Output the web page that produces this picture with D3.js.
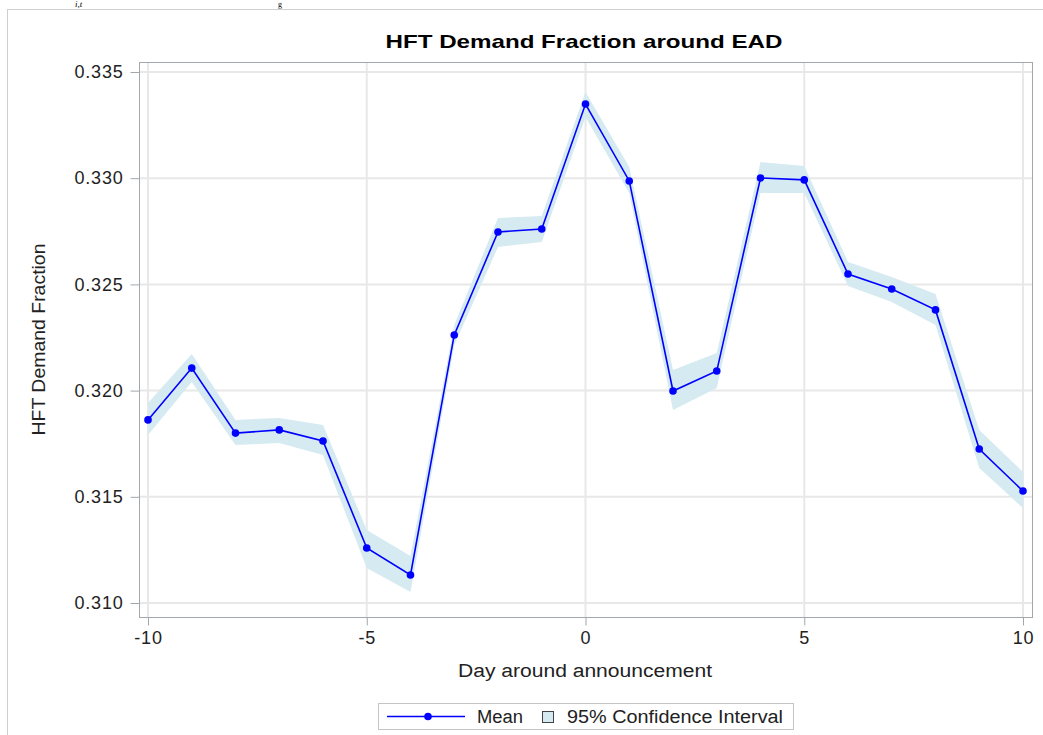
<!DOCTYPE html>
<html>
<head>
<meta charset="utf-8">
<script src="https://cdn.jsdelivr.net/npm/d3@7"></script>
<style>
  body { margin: 0; background: #fff; }
  svg { display: block; font-family: "Liberation Sans", Arial, sans-serif; }
</style>
</head>
<body>
<svg id="chart" width="1043" height="735"></svg>
<script>
// chart data
var days = [-10, -9, -8, -7, -6, -5, -4, -3, -2, -1, 0, 1, 2, 3, 4, 5, 6, 7, 8, 9, 10];
var meanValues = [0.31862, 0.32106, 0.31800, 0.31815, 0.31763, 0.31259, 0.31132, 0.32262, 0.32747, 0.32761,
                  0.33349, 0.32987, 0.31998, 0.32092, 0.33001, 0.32992, 0.32549, 0.32478, 0.32380, 0.31725, 0.31527];
var upperValues = [0.31942, 0.32172, 0.31862, 0.31871, 0.31838, 0.31344, 0.31221, 0.32309, 0.32813, 0.32822,
                   0.33406, 0.33053, 0.32097, 0.32177, 0.33076, 0.33057, 0.32606, 0.32535, 0.32455, 0.31815, 0.31617];
var lowerValues = [0.31791, 0.32040, 0.31744, 0.31753, 0.31697, 0.31165, 0.31052, 0.32215, 0.32676, 0.32700,
                   0.33288, 0.32930, 0.31909, 0.32012, 0.32930, 0.32930, 0.32493, 0.32417, 0.32309, 0.31636, 0.31447];
var xTicks = [-10, -5, 0, 5, 10];
var yTicks = [0.310, 0.315, 0.320, 0.325, 0.330, 0.335];

var titleText = "HFT Demand Fraction around EAD";
var xLabel = "Day around announcement";
var yLabel = "HFT Demand Fraction";
var legendMean = "Mean";
var legendBand = "95% Confidence Interval";

var bandColor = "#d5eaf1",
    lineColor = "#0000ff",
    gridColor = "#e8e8e8",
    frameColor = "#a3a8ad";

var svg = d3.select("#chart");

// plot frame
var frame = { left: 139, top: 62, right: 1032, bottom: 617 };

var x = d3.scaleLinear().domain([-10, 10]).range([148, 1023]);
var y = d3.scaleLinear().domain([0.310, 0.335]).range([603, 72]);

var rows = days.map(function(d, i) {
    return { day: d, mean: meanValues[i], lo: lowerValues[i], hi: upperValues[i] };
});

// outer page frame (screenshot crop of a document)
svg.append("rect")
    .attr("x", 7.5).attr("y", 9.5)
    .attr("width", 1100).attr("height", 800)
    .attr("fill", "none")
    .attr("stroke", "#cfcfcf");

// bits of the caption above the figure
svg.append("text")
    .attr("x", 75).attr("y", 7)
    .attr("font-family", "Liberation Serif, serif")
    .attr("font-style", "italic")
    .attr("font-size", 9)
    .text("i,t");
svg.append("text")
    .attr("x", 278).attr("y", 7)
    .attr("font-family", "Liberation Serif, serif")
    .attr("font-size", 8)
    .text("g");

// grid
svg.append("g")
    .selectAll("line")
    .data(yTicks)
    .enter().append("line")
    .attr("x1", frame.left).attr("x2", frame.right)
    .attr("y1", function(d) { return y(d); })
    .attr("y2", function(d) { return y(d); })
    .attr("stroke", gridColor)
    .attr("stroke-width", 2);

svg.append("g")
    .selectAll("line")
    .data(xTicks)
    .enter().append("line")
    .attr("y1", frame.top).attr("y2", frame.bottom)
    .attr("x1", function(d) { return x(d); })
    .attr("x2", function(d) { return x(d); })
    .attr("stroke", gridColor)
    .attr("stroke-width", 2);

// confidence band
var band = d3.area()
    .x(function(d) { return x(d.day); })
    .y0(function(d) { return y(d.lo); })
    .y1(function(d) { return y(d.hi); });

svg.append("path")
    .datum(rows)
    .attr("d", band)
    .attr("fill", bandColor);

// mean line + markers
var line = d3.line()
    .x(function(d) { return x(d.day); })
    .y(function(d) { return y(d.mean); });

svg.append("path")
    .datum(rows)
    .attr("d", line)
    .attr("fill", "none")
    .attr("stroke", lineColor)
    .attr("stroke-width", 1.6);

svg.append("g")
    .selectAll("circle")
    .data(rows)
    .enter().append("circle")
    .attr("cx", function(d) { return x(d.day); })
    .attr("cy", function(d) { return y(d.mean); })
    .attr("r", 3.8)
    .attr("fill", lineColor);

// frame box
svg.append("rect")
    .attr("x", frame.left + 0.5).attr("y", frame.top + 0.5)
    .attr("width", frame.right - frame.left).attr("height", frame.bottom - frame.top)
    .attr("fill", "none")
    .attr("stroke", frameColor);

// axes
var yAxis = d3.axisLeft(y)
    .tickValues(yTicks)
    .tickFormat(d3.format(".3f"))
    .tickSizeInner(9)
    .tickSizeOuter(0)
    .tickPadding(7);

var gy = svg.append("g")
    .attr("transform", "translate(" + (frame.left + 0.5) + ",0)")
    .call(yAxis);

var xAxis = d3.axisBottom(x)
    .tickValues(xTicks)
    .tickFormat(function(d) { return String(d); })   // plain hyphen like SAS
    .tickSizeInner(8)
    .tickSizeOuter(0)
    .tickPadding(6);

var gx = svg.append("g")
    .attr("transform", "translate(0," + (frame.bottom + 0.5) + ")")
    .call(xAxis);

[gx, gy].forEach(function(g) {
    g.select(".domain").remove();
    g.selectAll(".tick line").attr("stroke", frameColor);
    g.selectAll(".tick text")
        .attr("fill", "#222")
        .attr("font-size", 18)
        .attr("font-family", "Liberation Sans, Arial, sans-serif")
        .attr("letter-spacing", "0.8px");
});

// titles
svg.append("text")
    .attr("x", 584).attr("y", 48)
    .attr("text-anchor", "middle")
    .attr("font-size", 19)
    .attr("font-weight", "bold")
    .attr("textLength", 397)
    .attr("lengthAdjust", "spacingAndGlyphs")
    .attr("fill", "#000")
    .text(titleText);

svg.append("text")
    .attr("x", 585).attr("y", 677)
    .attr("text-anchor", "middle")
    .attr("font-size", 18)
    .attr("textLength", 254)
    .attr("lengthAdjust", "spacingAndGlyphs")
    .attr("fill", "#222")
    .text(xLabel);

svg.append("text")
    .attr("transform", "translate(45," + ((frame.top + frame.bottom) / 2) + ") rotate(-90)")
    .attr("text-anchor", "middle")
    .attr("font-size", 18)
    .attr("textLength", 192)
    .attr("lengthAdjust", "spacingAndGlyphs")
    .attr("fill", "#222")
    .text(yLabel);

// legend
var legend = svg.append("g");

legend.append("rect")
    .attr("x", 378.5).attr("y", 703.5)
    .attr("width", 415).attr("height", 26)
    .attr("fill", "#fff")
    .attr("stroke", "#c4c4c4");

legend.append("line")
    .attr("x1", 387).attr("x2", 465)
    .attr("y1", 716.5).attr("y2", 716.5)
    .attr("stroke", lineColor)
    .attr("stroke-width", 1.6);

legend.append("circle")
    .attr("cx", 428).attr("cy", 716.5)
    .attr("r", 3.8)
    .attr("fill", lineColor);

legend.append("text")
    .attr("x", 477).attr("y", 723)
    .attr("font-size", 18)
    .attr("textLength", 46)
    .attr("lengthAdjust", "spacingAndGlyphs")
    .attr("fill", "#222")
    .text(legendMean);

legend.append("rect")
    .attr("x", 542.5).attr("y", 711.5)
    .attr("width", 11).attr("height", 11)
    .attr("fill", bandColor)
    .attr("stroke", "#444");

legend.append("text")
    .attr("x", 567).attr("y", 723)
    .attr("font-size", 18)
    .attr("textLength", 216)
    .attr("lengthAdjust", "spacingAndGlyphs")
    .attr("fill", "#222")
    .text(legendBand);
</script>
</body>
</html>
